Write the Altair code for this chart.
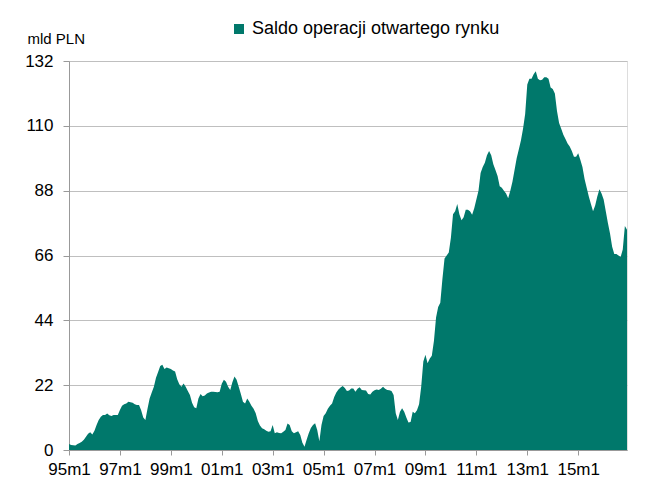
import altair as alt
import pandas as pd

series_name = "Saldo operacji otwartego rynku"
years = list(range(1995, 2017))
months = [f"{y % 100:02d}m{m}" for y in years for m in range(1, 13)]

values = [
    # 1995
    2.0, 1.7, 1.6, 1.5, 2.0, 2.4, 2.8, 3.5, 4.5, 5.5, 6.0, 5.3,
    # 1996
    6.5, 8.5, 10.2, 11.3, 11.9, 11.9, 12.4, 11.8, 11.5, 11.9, 11.9, 11.9,
    # 1997
    13.6, 15.0, 15.5, 15.8, 16.4, 16.2, 16.0, 15.5, 15.3, 15.3, 13.5, 11.0,
    # 1998
    10.2, 14.0, 17.5, 19.5, 21.5, 24.5, 26.5, 28.5, 28.9, 27.5, 28.0, 27.7,
    # 1999
    27.5, 27.0, 26.6, 24.0, 22.3, 21.5, 22.6, 21.5, 20.0, 18.7, 16.0, 14.5,
    # 2000
    14.2, 17.5, 19.0, 18.2, 18.5, 19.2, 19.5, 19.8, 19.8, 19.7, 19.6, 19.8,
    # 2001
    22.5, 23.8, 23.2, 21.5, 20.4, 23.0, 24.9, 23.8, 21.5, 19.0, 16.4, 15.8,
    # 2002
    17.5, 16.4, 15.0, 14.0, 12.5, 9.8, 8.3, 7.4, 7.0, 6.5, 6.2, 6.4,
    # 2003
    8.5, 5.7, 6.0, 5.8, 5.7, 6.2, 6.8, 9.0, 8.5, 6.4, 5.7, 6.0,
    # 2004
    6.4, 5.1, 2.5, 1.1, 3.5, 5.7, 7.5, 8.5, 9.1, 6.8, 3.0, 8.5,
    # 2005
    11.5, 12.5, 14.0, 15.0, 15.8, 18.0, 19.5, 20.5, 21.2, 21.7, 21.0, 20.0,
    # 2006
    20.2, 20.9, 20.9, 19.8, 20.8, 21.3, 20.4, 20.3, 20.2, 19.0, 18.8, 19.8,
    # 2007
    20.3, 20.5, 20.4, 20.8, 21.5, 20.8, 20.4, 20.3, 20.0, 18.7, 12.5, 10.2,
    # 2008
    13.0, 14.2, 13.0, 11.0, 9.3, 9.5, 13.0, 12.5, 13.5, 15.5, 21.5, 30.0,
    # 2009
    32.3, 29.4, 31.0, 32.0, 37.0, 45.0, 48.5, 50.0, 58.0, 65.0, 66.0, 67.0,
    # 2010
    72.0, 80.0, 81.0, 83.5, 80.0, 78.0, 79.0, 81.5, 81.5, 81.0, 79.8, 82.0,
    # 2011
    85.0, 88.0, 94.0, 96.0, 97.5, 100.0, 101.5, 100.0, 97.0, 95.0, 93.0, 89.5,
    # 2012
    89.0, 88.0, 87.0, 85.4, 88.0, 91.0, 95.0, 99.0, 102.0, 105.0, 109.0, 114.0,
    # 2013
    124.0, 126.0, 126.0, 127.5, 128.5, 126.0, 125.5, 125.6, 126.5, 126.5, 126.0, 123.0,
    # 2014
    122.5, 121.0, 115.0, 111.0, 109.0, 107.0, 105.5, 104.0, 103.0, 101.5, 99.5, 99.5,
    # 2015
    100.7, 98.5, 96.0, 92.0, 89.0, 86.0, 83.5, 81.0, 83.0, 86.0, 88.5, 87.0,
    # 2016
    85.0, 81.0, 77.0, 73.5, 69.0, 66.5, 66.5, 66.0, 65.5, 68.0, 76.0, 74.7,
]

y_ticks = [0, 22, 44, 66, 88, 110, 132]
x_tick_idx = [i for i, m in enumerate(months) if m.endswith("m1") and int(m[:2]) % 2 == 1]

df = pd.DataFrame({
    "idx": list(range(len(months))),
    "month": months,
    "value": values,
    "series": series_name,
})

FONT = "Liberation Sans"
TEAL = "#00786B"

chart = alt.Chart(df).mark_area(interpolate="linear").encode(
    x=alt.X(
        "idx:Q",
        scale=alt.Scale(domain=[0, len(months) - 1], nice=False, zero=False),
        axis=alt.Axis(
            values=x_tick_idx,
            labelExpr="format((95 + floor(datum.value / 12)) % 100, '02d') + 'm1'",
            grid=False,
            title=None,
            tickSize=5,
            tickColor="#999999",
            domainColor="#999999",
            labelFontSize=17,
            labelColor="#000000",
            labelFont=FONT,
            labelPadding=6,
            labelFlush=False,
            labelOverlap=False,
        ),
    ),
    y=alt.Y(
        "value:Q",
        scale=alt.Scale(domain=[0, 132], nice=False),
        axis=alt.Axis(
            values=y_ticks,
            grid=True,
            gridColor="#BFBFBF",
            tickSize=6,
            tickColor="#999999",
            domainColor="#999999",
            labelFontSize=17,
            labelColor="#000000",
            labelFont=FONT,
            labelPadding=10,
            title="mld PLN",
            titleAngle=0,
            titleAlign="left",
            titleBaseline="middle",
            titleX=-42,
            titleY=-23,
            titleFont=FONT,
            titleFontSize=15,
            titleFontWeight="normal",
            titleColor="#000000",
        ),
    ),
    color=alt.Color(
        "series:N",
        scale=alt.Scale(range=[TEAL]),
        legend=alt.Legend(
            orient="none",
            legendX=161,
            legendY=-41,
            title=None,
            symbolType="square",
            symbolSize=100,
            symbolStrokeWidth=0,
            symbolOpacity=1,
            labelFontSize=18,
            labelFont=FONT,
            labelColor="#000000",
            labelOffset=4,
            labelLimit=0,
            padding=0,
        ),
    ),
).properties(
    width=558,
    height=389,
    autosize=alt.AutoSizeParams(type="none"),
    padding={"left": 61, "top": 53, "right": 17, "bottom": 30},
).configure_view(strokeWidth=0).configure(background="white")

chart.save("out.html", embed_options={"renderer": "svg", "actions": False})
